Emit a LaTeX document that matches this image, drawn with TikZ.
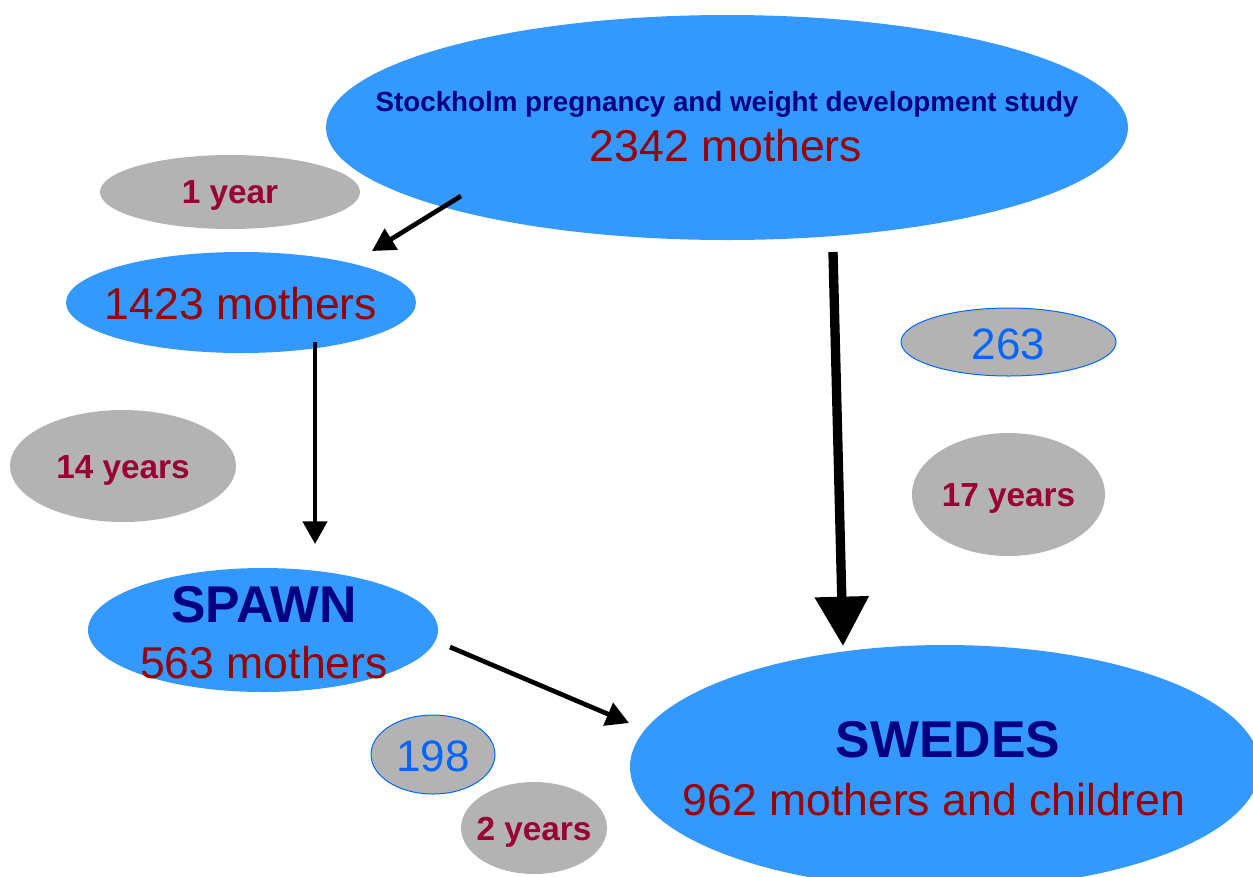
\documentclass[tikz,border=0pt]{standalone}
\usepackage{fontspec}
\setmainfont{Liberation Sans}
\usetikzlibrary{shapes.geometric,arrows.meta}

\definecolor{ellblue}{HTML}{3399FF}
\definecolor{ellgray}{HTML}{B3B3B3}
\definecolor{navytext}{HTML}{000080}
\definecolor{redtext}{HTML}{990000}
\definecolor{yeartext}{HTML}{990033}
\definecolor{numtext}{HTML}{0066FF}

\tikzset{
  cohort/.style={ellipse, fill=ellblue, inner sep=0pt},
  span/.style={ellipse, fill=ellgray, inner sep=0pt},
  loss/.style={ellipse, fill=ellgray, draw=numtext, line width=0.75pt, inner sep=0pt},
  counttext/.style={inner sep=0pt, text=redtext, font=\fontsize{33.4}{40}\selectfont},
  nametext/.style={inner sep=0pt, text=navytext, font=\fontsize{38.8}{44}\selectfont\bfseries},
  yeartxt/.style={inner sep=0pt, text=yeartext, font=\fontsize{25}{30}\selectfont\bfseries},
  losstxt/.style={inner sep=0pt, text=numtext, font=\fontsize{33}{40}\selectfont},
  flow/.style={line width=3.5pt, -{Triangle[length=17pt,width=18pt]}},
  bigflow/.style={line width=7pt, -{Triangle[length=37pt,width=39pt]}}
}

\begin{document}
\begin{tikzpicture}[x=0.75pt, y=-0.75pt] % 1 unit = 1 px of the reference
    % Frame of the picture
    \useasboundingbox (0,0) rectangle (1253,876);

    % Cohorts
    \node[cohort, minimum width=601.5pt, minimum height=168.75pt] (study) at (727,127.5) {};
    \node[cohort, minimum width=262.5pt, minimum height=75.75pt] (m1423) at (241,302.5) {};
    \node[cohort, minimum width=262.5pt, minimum height=93pt] (spawn) at (263,630) {};
    \node[cohort, minimum width=472.5pt, minimum height=183pt] (swedes) at (945,767) {};

    \node[inner sep=0pt, text=navytext, font=\fontsize{20.8}{24}\selectfont\bfseries] (studyname) at (727,104)
        {Stockholm pregnancy and weight development study};
    \node[counttext] (studycount) at (726,146) {2342 mothers};
    \node[counttext] (m1423count) at (241,304) {1423 mothers};
    \node[nametext] (spawnname) at (264,605) {SPAWN};
    \node[counttext] (spawncount) at (264,663) {563 mothers};
    \node[nametext] (swedesname) at (948,740) {SWEDES};
    \node[counttext] (swedescount) at (934,800) {962 mothers and children};

    % Follow-up times
    \node[span, minimum width=195pt, minimum height=55.5pt] (y1) at (230,192) {};
    \node[span, minimum width=169.5pt, minimum height=84pt] (y14) at (123,466) {};
    \node[span, minimum width=144.75pt, minimum height=92.25pt] (y17) at (1008.5,494.5) {};
    \node[span, minimum width=109.5pt, minimum height=69pt] (y2) at (534,828) {};
    \node[yeartxt] (y1text) at (230,195) {1 year};
    \node[yeartxt] (y14text) at (123,470) {14 years};
    \node[yeartxt] (y17text) at (1008.5,498.5) {17 years};
    \node[yeartxt] (y2text) at (534,832) {2 years};

    % Numbers lost
    \node[loss, minimum width=161.25pt, minimum height=51pt] (n263) at (1008.5,342) {};
    \node[loss, minimum width=93pt, minimum height=59.25pt] (n198) at (433,754.5) {};
    \node[losstxt] (n263text) at (1008.5,344) {263};
    \node[losstxt] (n198text) at (433,756) {198};

    % Arrow ends
    \coordinate (a1s) at (461,196); \coordinate (a1e) at (372,251);
    \coordinate (a2s) at (315,342); \coordinate (a2e) at (315,544);
    \coordinate (a3s) at (833,252); \coordinate (a3e) at (843,646);
    \coordinate (a4s) at (450,647); \coordinate (a4e) at (629,723);

    \draw[flow] (a1s) -- (a1e);
    \draw[flow] (a2s) -- (a2e);
    \draw[bigflow] (a3s) -- (a3e);
    \draw[flow] (a4s) -- (a4e);
\end{tikzpicture}
\end{document}
